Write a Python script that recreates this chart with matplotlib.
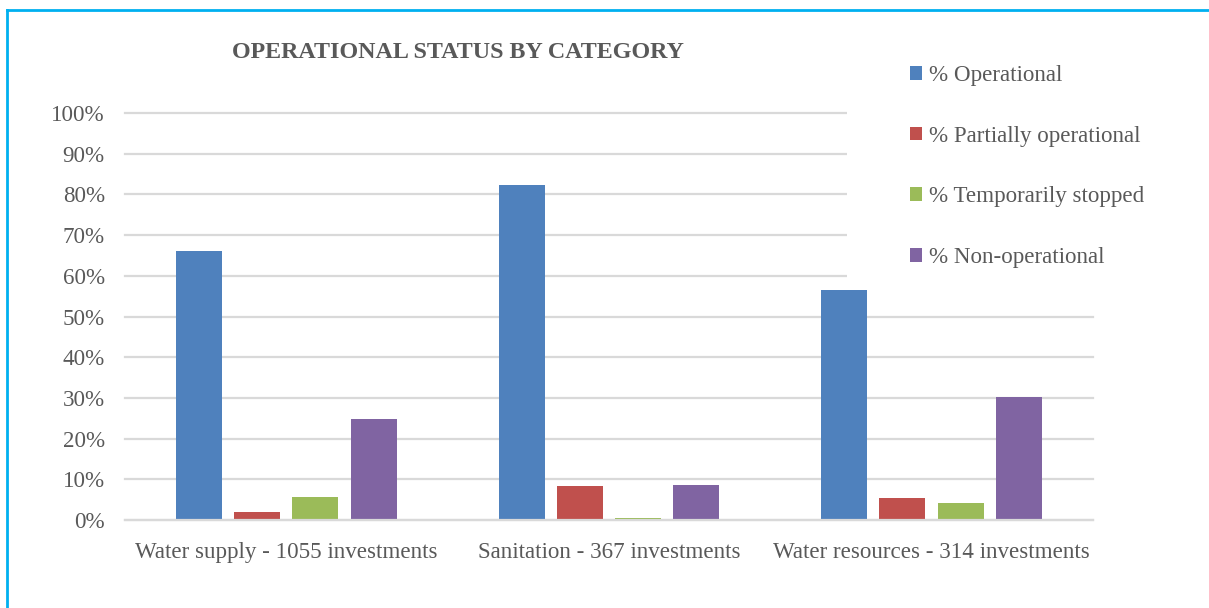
import numpy as np
import matplotlib
matplotlib.use("Agg")
import matplotlib.pyplot as plt
from matplotlib.patches import Rectangle
from matplotlib.lines import Line2D

# operational status shares (%) per investment category
categories = ["Water supply - 1055 investments",
              "Sanitation - 367 investments",
              "Water resources - 314 investments"]
series_names = ["% Operational", "% Partially operational",
                "% Temporarily stopped", "% Non-operational"]
operational = [66.1, 82.3, 56.4]
partially_operational = [1.9, 8.3, 5.3]
temporarily_stopped = [5.6, 0.4, 4.1]
non_operational = [24.9, 8.6, 30.2]
colors = ["#4F81BD", "#C0504D", "#9BBB59", "#8064A2"]
yticks = [0, 10, 20, 30, 40, 50, 60, 70, 80, 90, 100]

text_grey = "#595959"
grid_grey = "#D9D9D9"
plt.rcParams["font.family"] = ["Liberation Serif", "DejaVu Serif"]

fig = plt.figure(figsize=(12.09, 6.08), dpi=100)
ax = fig.add_axes([0.1034, 0.1447, 0.8006, 0.6694])

x = np.arange(len(categories))
step = 0.1807
width = 0.1426
values = [operational, partially_operational, temporarily_stopped, non_operational]
for i, (name, vals, c) in enumerate(zip(series_names, values, colors)):
    ax.bar(x + (i - 1.5) * step, vals, width, color=c, label=name, zorder=2)

ax.set_xlim(-0.5, len(categories) - 0.5)
ax.set_ylim(0, 100)
ax.set_yticks(yticks)
ax.set_yticklabels([f"{v}%" for v in yticks])
ax.set_xticks(x)
ax.set_xticklabels(categories)
ax.tick_params(axis="both", length=0, labelsize=16.6, colors=text_grey)
ax.tick_params(axis="y", pad=14.5)
ax.tick_params(axis="x", pad=15.5)
ax.yaxis.grid(True, color=grid_grey, linewidth=1.6, zorder=0)
for gl in ax.get_ygridlines():
    gl.set_clip_on(False)
ax.set_axisbelow(True)
for side in ["top", "right", "left"]:
    ax.spines[side].set_visible(False)
ax.spines["bottom"].set_color(grid_grey)
ax.spines["bottom"].set_linewidth(1.6)

# white box behind the legend hides the gridlines there
W, H = 1209, 608
ax.add_patch(Rectangle((847 / W, 1 - 285 / H), (1185 - 847) / W, (285 - 40) / H,
                       transform=fig.transFigure, facecolor="white",
                       edgecolor="none", clip_on=False, zorder=1))

fig.text(458 / W, 1 - 53 / H, "OPERATIONAL STATUS BY CATEGORY",
         ha="center", va="center", fontsize=17.3, fontweight="bold", color=text_grey)

leg = fig.legend(loc="upper left", bbox_to_anchor=(910 / W, 1 - 65 / H),
                 frameon=False, fontsize=16.6, borderpad=0, borderaxespad=0,
                 handlelength=0.53, handleheight=0.53, handletextpad=0.3,
                 labelspacing=1.72)
for t in leg.get_texts():
    t.set_color(text_grey)

# border lines along the top and left edges
fig.add_artist(Line2D([7 / W, 7 / W], [0, 1 - 10 / H], transform=fig.transFigure,
                      color="#00B0F0", linewidth=2))
fig.add_artist(Line2D([7 / W, 1], [1 - 10 / H, 1 - 10 / H], transform=fig.transFigure,
                      color="#00B0F0", linewidth=2))

fig.savefig("out.png", dpi=100)
